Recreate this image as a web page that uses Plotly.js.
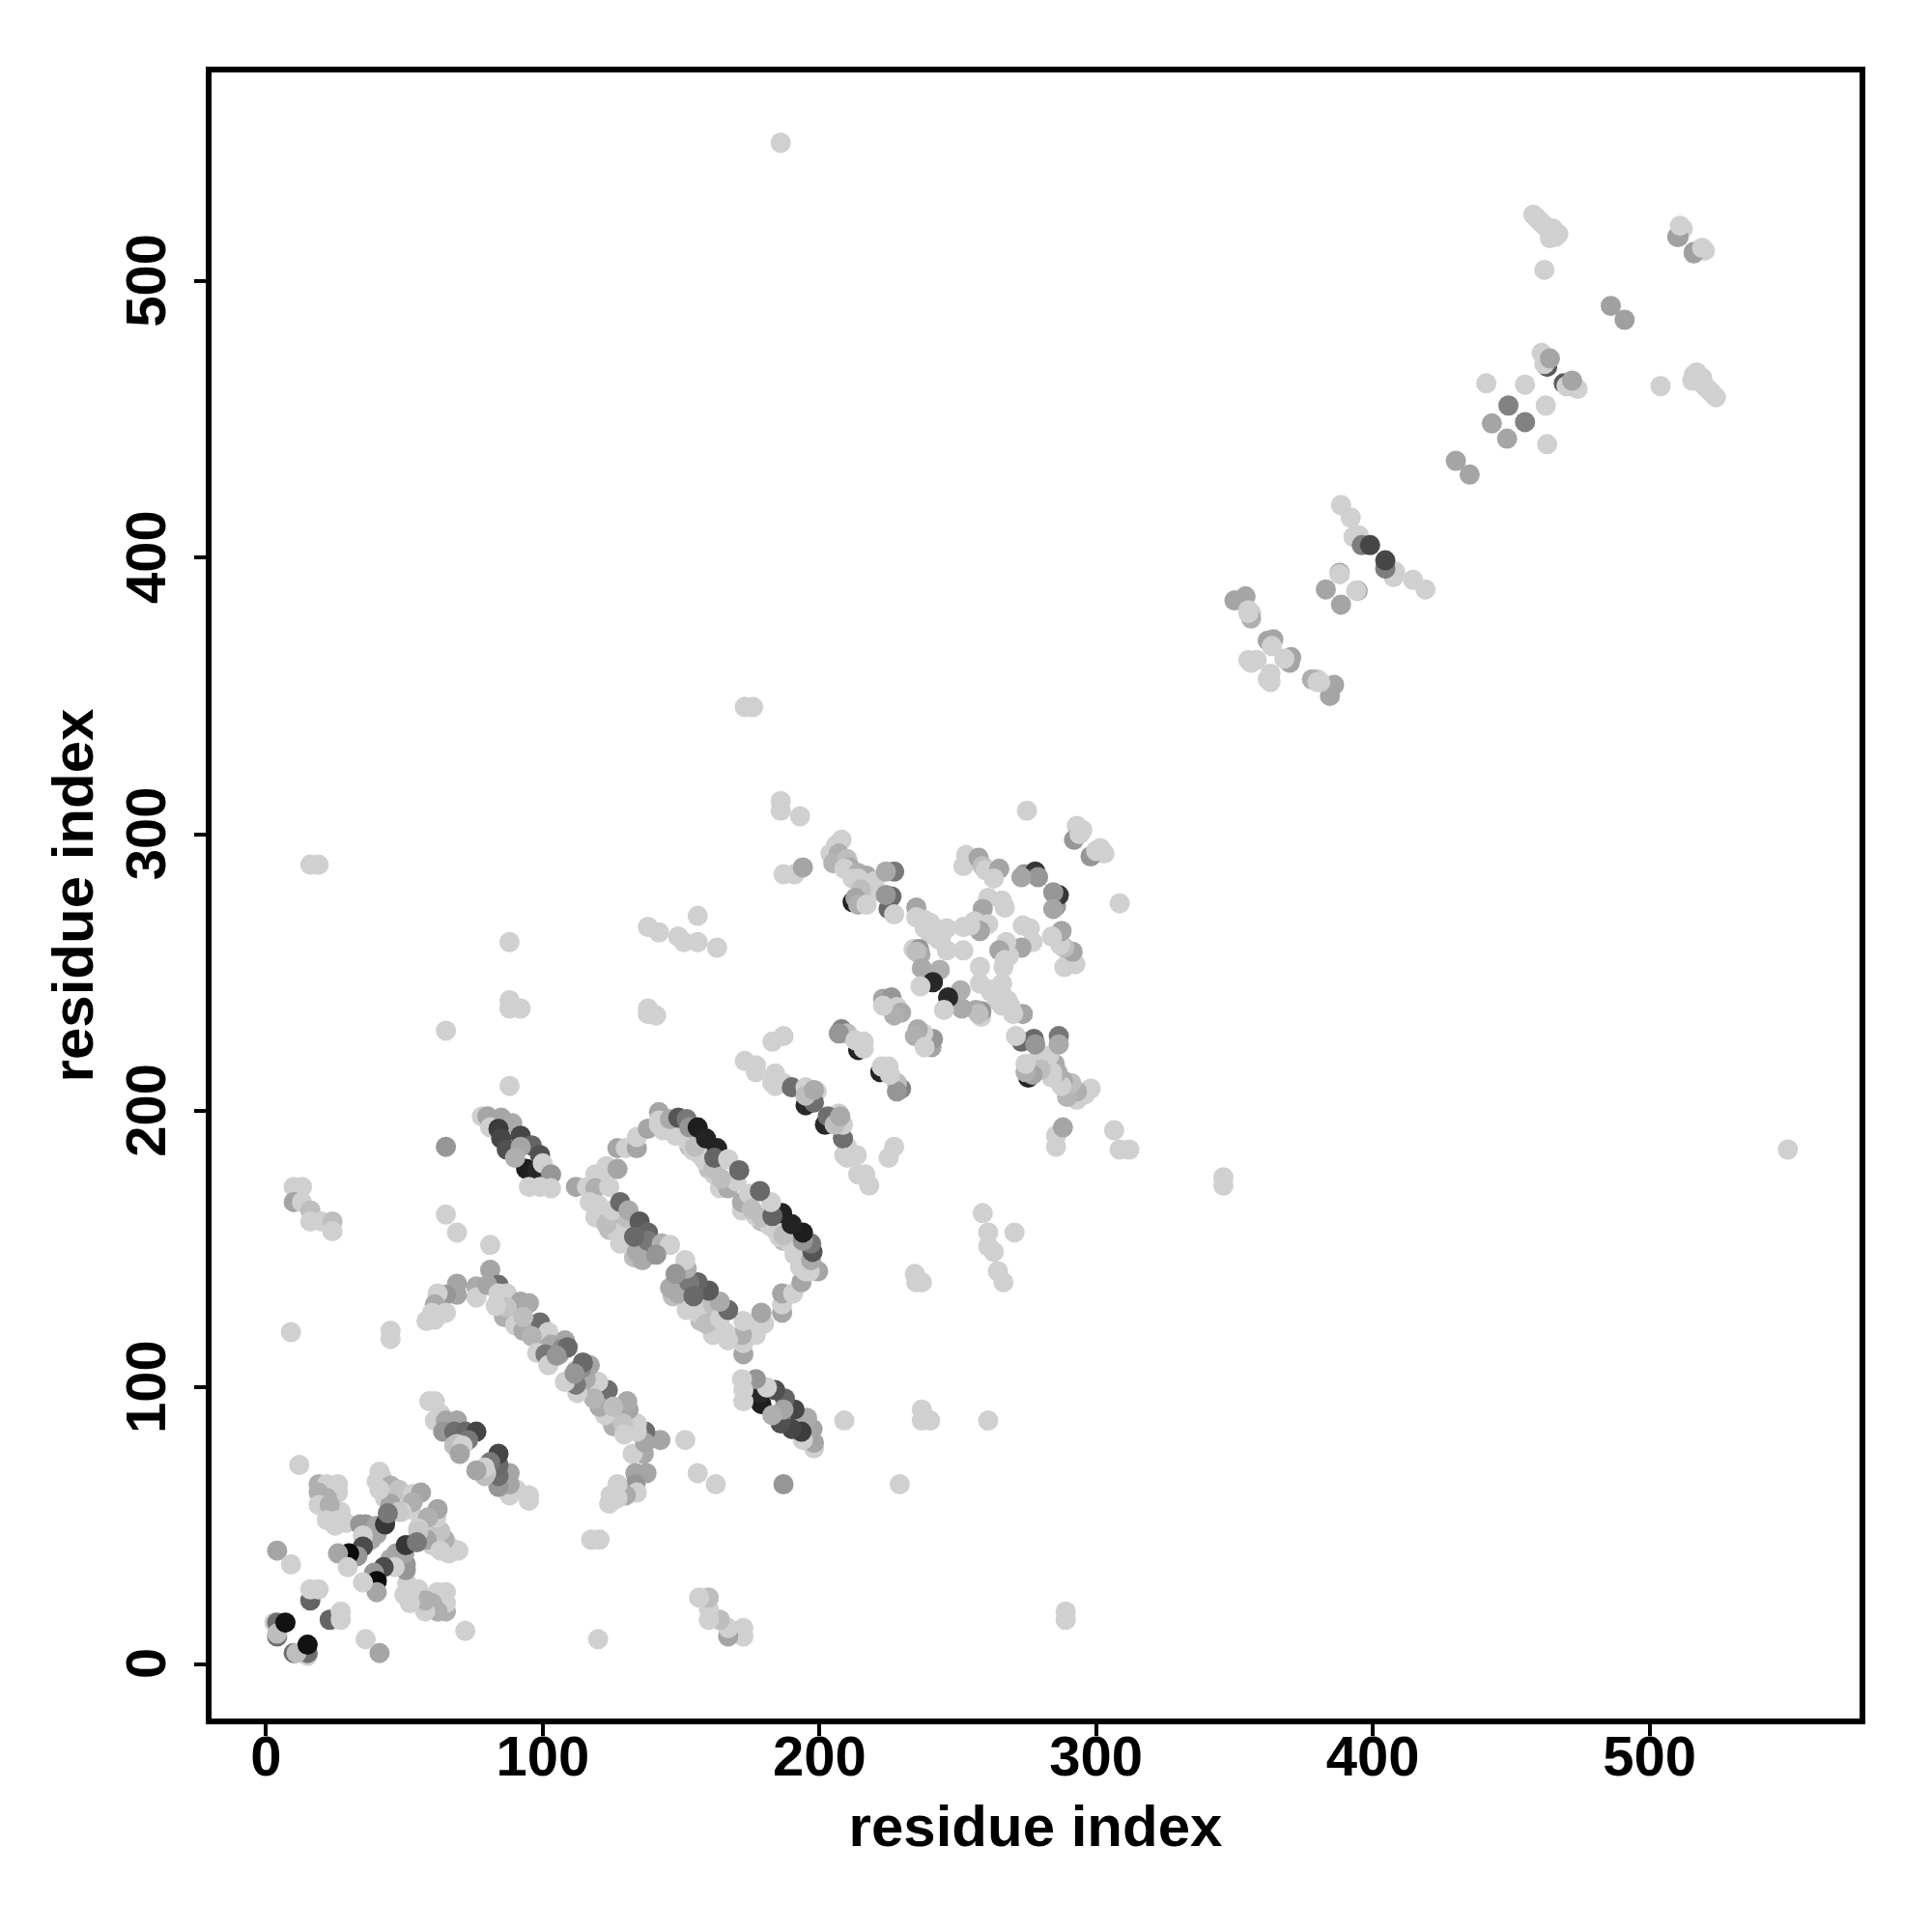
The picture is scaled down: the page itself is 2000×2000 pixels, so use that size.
<!DOCTYPE html>
<html>
<head>
<meta charset="utf-8">
<script src="https://cdn.plot.ly/plotly-3.0.1.min.js"></script>
<style>html,body{margin:0;padding:0;background:#fff}</style>
</head>
<body>
<div id="chart" style="width:2000px;height:2000px"></div>
<script>
// Contact pairs: residue a, residue b, grey level. The map is symmetric, each pair shows at (a,b) and (b,a).
const pairs_a = [
4,46,94,98,138,137,132,212,195,225,214,160,
12,4,9,3,4,4,7,16,16,19,
20,24,24,27,25,38,37,
19,22,26,19,26,22,19,23,22,26,29,34,36,40,40,35,43,35,33,30,26,29.5,
42,43,50,47,52,
41,40,45,48,53,56,53,49,45,41,48,44,
59,61,63,61,65,69,64,68,72,76,73,69,68,71,70,
65,69,81,81,84,76,76,81,69,69,65,62,61,65,61,58,60,9,45,45,
10,13,10,13,16,16,20,24,24,
89,95,92,99,104,103,106,88,
84,80,87,84,92,95,86,87,90,83,99,102,93,93,96,103,108,107,109,98,101,102,105,
112,116,121,119,119,124,123,127,127,130,134,134,138,142,142,143.5,
157,160,164,153,
142,148,152,154.5,158.5,162,167,170,164.5,161.5,155,146,149,152,153,156,159,163,162,167,171,
121,124,128,133,136,126,129,134,
117,119,124,127,127,130,134,131,130,123,120,125,128,131,135,138,138,143,146,141,133,
78,80,85,81,89,84,85,87,92,96,99,92,100,103,95,103,99,90,
88,88,92,88,88,138,138,141,65,65,16,19,173,176,186,
186,186,193,187,191,194,275,
163,156,138,142,149,151,156,
208,204,206,207,205,210,211,209,214,217,212,214,216,220,218,219,216,215,213,214,217,227,224,226,224,227,
235,235,238,240,240,242,238,244,243,246,252,234,236,236.5,235,246,252,237,243.5,241,236.5,
253,252,257.5,259,260,265,263,274,278,279,273,
261,266,267,259,261,256,258,254.5,
293,295,292,294,
223,226,228,229.5,227,223,
208,210,207,213,216,216,
173,177,177,184,184,187,190,195,199,198,195,183,183,187,198,
458,459,460,461,462,463,464,465,466,464,467,465,462,510,512,516,520,
486,463,461,462,464,441,455,449,443,430,
388.5,392,393,395,396,399,388,388,383,
350,354,355,356,356,355,364,362,363.5,355,358,356
];
const pairs_b = [
10,55,179,178.5,148,150,160.5,275.5,202,273,222,187,
72,41,36,15,15,11,15,23,27,27,
60,60,55,55,50,45,47,
65,65,65,62,62,60,57.5,57.5,52,52,51,50.5,50.5,50,47,46.5,50.5,42.5,39,40,40,35,
67,60,58,60,56,
69.5,66,64.5,63,61.5,62,58.5,55,58,63,55,54.5,
95,95,90.5,88,88,88,84,84,84,84,81,79.5,79,79,76,
162.5,156,151.5,142.5,137,136.5,132.5,137,137.5,133.5,133.5,134,130,127,124.5,124,127,120,120.5,117.5,
172.5,172.5,167,167,164,160,160,160,156.5,
127,122,126,116,113,110,112,125,
137,137,134,134,131,130.5,125.5,129,122.5,129.5,123.5,120,120.5,125.5,118.5,115.5,117,114,114.5,112.5,112,108,111.5,
172.5,172.5,176,177,172,172.5,180,179,186.5,186.5,186.5,190.5,193.5,199.5,196.5,193,
184,179,172,187,
195,191,189.5,185.5,182,177,172,174.5,175.5,179,187,197,197.5,197,194,194,190,186.5,183,182.5,178.5,
163,157,152,147,146,160,157,152,
167,161.5,160.5,163,156,152.5,149,158,161.5,159,166,164,167,164,160,156,153,152,151.5,148,154.5,
198,198,197.5,194,195.5,193.5,190,186,191,187.5,184,187,181,177,172.5,172,172.5,183,
240,237,237,209,261,237,235,234.5,187,229,289,289,346,346,550,
312,308.5,306.5,285.5,285.5,288,308.5,
259,261,266.5,264.5,263,261,270.5,
298,293,296,293,289.5,291,288,287.5,286,285,284,284,282,283,281.5,279,279,280,277,274.5,274.5,286.5,286.5,277.5,278,271,
273.5,270,266,264,268,266,269,263,262,266,266.5,258.5,258.5,256.5,257.5,258,258,251.5,251,246.5,245,
292.5,288.5,291.5,288.5,287,287.5,284,285.5,286.5,284.5,284.5,
277,276,273.5,273,267.5,268.5,265,267,
303,301.5,298,300,
240.5,241,237.5,235.5,234.5,238,
229.5,228,228,225.5,225,222.5,
218,216.5,214,213.5,209,210,208.5,208.5,207,203,205.5,225,210,227,207.5,
524,523,522,521,520,519,518,517,516,515.5,517,519,504,516,519,510.5,511,
491,469,474,470,472,463,462.5,455,448.5,435,
419,414.5,407.5,408,404.5,404.5,394.5,394,388.5,
384.5,386,381,380,378,380,370.5,370,368,363,363,362
];
const pairs_grey = [
110,30,30,40,40,60,60,35,40,105,35,10,
208,165,208,208,110,190,18,100,208,208,
208,208,208,208,208,170,165,
175,208,208,175,208,175,208,175,208,208,208,150,150,165,165,208,55,75,150,10,165,208,
208,208,208,208,208,
208,208,175,195,208,165,175,208,165,208,200,120,
208,208,208,208,165,165,150,110,105,70,120,208,190,208,165,
208,208,208,165,110,170,208,165,165,165,150,208,170,208,208,208,208,208,208,208,
208,208,165,208,190,208,208,190,208,
190,190,170,175,170,208,165,170,
110,165,208,208,165,170,175,195,208,208,110,208,170,190,180,170,165,140,105,208,120,208,150,
165,208,208,208,175,208,208,165,165,208,165,208,165,165,208,208,
208,190,208,190,
208,208,208,208,208,208,170,208,190,190,190,170,85,120,150,30,35,35,100,208,105,
208,190,208,190,170,208,190,208,
208,208,190,170,208,208,170,208,190,190,208,208,105,170,90,100,120,175,208,150,105,
208,165,165,208,170,60,70,80,70,100,80,165,208,150,208,208,208,175,
208,208,208,208,208,208,208,208,150,208,208,208,208,208,208,
208,208,208,208,208,165,208,
208,208,208,208,208,208,208,
208,208,208,175,180,190,170,208,175,170,208,208,208,208,208,208,208,190,165,175,208,120,170,105,150,208,
165,208,208,208,208,208,208,208,208,208,208,208,150,170,190,208,208,170,175,40,208,
208,208,165,190,208,165,208,150,55,150,165,
208,208,208,165,208,208,165,208,
208,208,150,208,
165,150,208,170,175,208,
130,190,150,208,208,208,
208,208,208,208,208,208,110,208,208,110,190,208,208,208,170,
208,208,208,208,208,208,208,208,208,208,208,208,208,160,208,160,208,
160,90,208,208,165,208,208,130,165,165,
208,208,208,208,125,70,165,208,165,
165,165,208,208,175,208,165,165,208,208,208,208
];
const tick_values = [0,100,200,300,400,500];
const tick_labels = ["0","100","200","300","400","500"];
const axis_label = "residue index";

const xs = pairs_a.concat(pairs_b);
const ys = pairs_b.concat(pairs_a);
const greys = pairs_grey.concat(pairs_grey).map(g => `rgb(${g},${g},${g})`);
const fontFamily = '"Liberation Sans", Arial, sans-serif';
const axisStyle = {
  tickmode: 'array', tickvals: tick_values,
  showgrid: false, zeroline: false, showline: true, mirror: true, linecolor: '#000', linewidth: 6,
  ticks: 'outside', ticklen: 12, tickwidth: 4, tickcolor: '#000',
  tickfont: {family: fontFamily, size: 58, color: '#000', weight: 700}
};
Plotly.newPlot('chart', [{
  type: 'scatter', mode: 'markers', x: xs, y: ys, hoverinfo: 'skip',
  marker: {size: 21, color: greys, line: {width: 0}}
}], {
  width: 2000, height: 2000, autosize: false, showlegend: false,
  paper_bgcolor: '#fff', plot_bgcolor: '#fff',
  margin: {l: 219, r: 74.5, t: 74.5, b: 220.5, pad: 0},
  xaxis: Object.assign({}, axisStyle, {ticktext: tick_labels, range: [-19.7, 575.9], ticklabelstandoff: -29, title: {text: axis_label, standoff: 22, font: {family: fontFamily, size: 60, color: '#000', weight: 700}}}),
  yaxis: Object.assign({}, axisStyle, {ticktext: tick_labels.map(t => t + '\u00A0'), range: [-19.7, 575.4], tickangle: -90, ticklabelstandoff: 7, title: {text: axis_label, standoff: 4, font: {family: fontFamily, size: 60, color: '#000', weight: 700}}})
}, {displayModeBar: false, staticPlot: true});
</script>
</body>
</html>
